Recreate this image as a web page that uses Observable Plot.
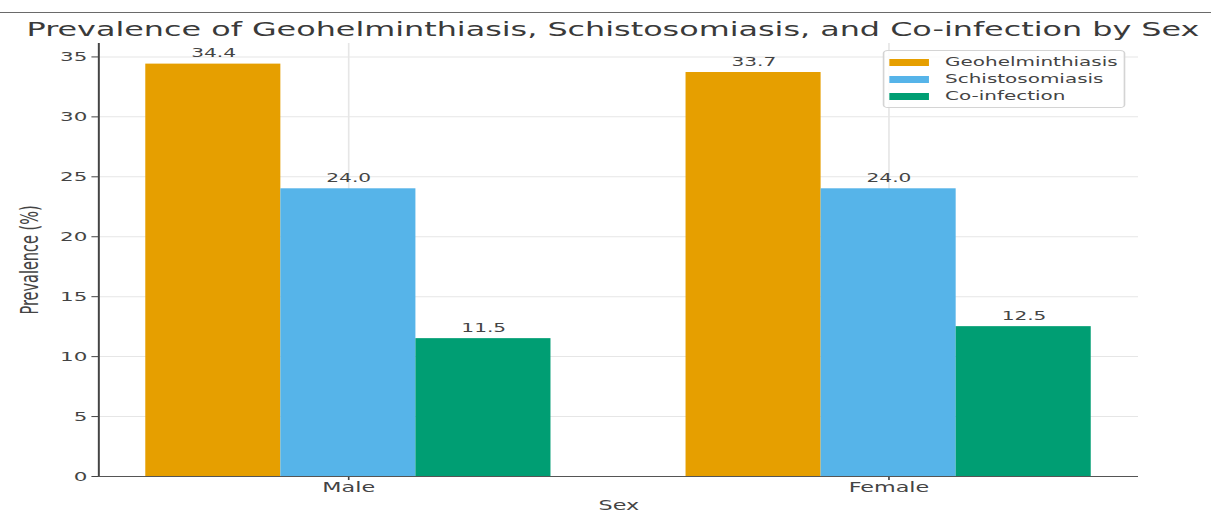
<!DOCTYPE html>
<html>
<head>
<meta charset="utf-8">
<script src="https://cdn.jsdelivr.net/npm/d3@7"></script>
<script src="https://cdn.jsdelivr.net/npm/@observablehq/plot@0.6"></script>
<style>
  html, body { margin: 0; padding: 0; background: #fff; }
  #wrap { position: relative; width: 734px; height: 514px; transform: scaleX(1.65); transform-origin: 0 0; font-family: "DejaVu Sans", sans-serif; }
  #topline { position: absolute; top: 11.5px; left: 0; width: 100%; border-top: 1.5px solid #6a6a6a; }
  #title { position: absolute; top: 19.5px; left: 0; width: 100%; box-sizing: border-box; padding-left: 9px; text-align: center; font-size: 19.3px; line-height: 19.3px; color: #3a3a3a; white-space: nowrap; }
  #chart { position: absolute; top: 40px; left: 0; }
  #legend { position: absolute; left: 535.2px; top: 50px; width: 147.3px; height: 58px; box-sizing: border-box; border: 1px solid #d4d4d4; border-radius: 3px; background: rgba(255,255,255,0.85); padding-top: 2.5px; }
  .row { display: flex; align-items: center; height: 17px; }
  .sw { width: 24.8px; height: 7px; margin-left: 2.4px; margin-right: 9.4px; flex: none; }
  .lab { font-size: 12.1px; color: #444; white-space: nowrap; }
</style>
</head>
<body>
<div id="wrap">
  <div id="topline"></div>
  <div id="title">Prevalence of Geohelminthiasis, Schistosomiasis, and Co-infection by Sex</div>
  <div id="chart"></div>
  <div id="legend"></div>
</div>
<script>
const sexes = ["Male", "Female"];
const series = ["Geohelminthiasis", "Schistosomiasis", "Co-infection"];
const geohelminthiasis = [34.4, 33.7];
const schistosomiasis = [24.0, 24.0];
const coinfection = [11.5, 12.5];
const colors = ["#E69F00", "#56B4E9", "#009E73"];
const yTicks = [0, 5, 10, 15, 20, 25, 30, 35];

const valuesBySeries = [geohelminthiasis, schistosomiasis, coinfection];
const key = (sex, s) => sex + "|" + s;
const data = sexes.flatMap((sex, i) =>
  series.map((s, j) => ({ sex, series: s, key: key(sex, s), value: valuesBySeries[j][i] }))
);
// x slots: each group's bars, with one empty slot between groups
const xDomain = sexes.flatMap((sex, i) => [
  ...series.map(s => key(sex, s)),
  ...(i < sexes.length - 1 ? [key(sex, "gap")] : [])
]);
const xTicks = sexes.map(sex => key(sex, series[1]));

const chart = Plot.plot({
  width: 734,
  height: 474,
  marginTop: 3,
  marginBottom: 38,
  marginLeft: 59.4,
  marginRight: 44.3,
  style: { fontFamily: "DejaVu Sans", color: "#444", background: "transparent", overflow: "visible" },
  x: { domain: xDomain, paddingInner: 0, paddingOuter: 0.35, round: false, axis: null },
  y: { domain: [0, 36.12], axis: null },
  color: { domain: series, range: colors },
  marks: [
    Plot.gridY(yTicks, { stroke: "#e6e6e6", strokeOpacity: 1, strokeWidth: 1 }),
    Plot.gridX(xTicks, { stroke: "#e6e6e6", strokeOpacity: 1, strokeWidth: 1 }),
    Plot.barY(data, { x: "key", y: "value", fill: "series" }),
    Plot.text(data, { x: "key", y: "value", text: d => d.value.toFixed(1), lineAnchor: "bottom", dy: -7, fontSize: 12.2, fill: "#444" }),
    Plot.axisY(yTicks, { anchor: "left", tickSize: 4, tickPadding: 3, fontSize: 13, stroke: "#444", fill: "#444", label: null }),
    Plot.axisY([], { anchor: "left", tickSize: 0, fontSize: 14.5, fill: "#444",
      label: "Prevalence (%)", labelAnchor: "center", labelArrow: false, labelOffset: 47 }),
    Plot.axisX(xTicks, { anchor: "bottom", tickSize: 4, tickPadding: 2, fontSize: 13.5, stroke: "#444", fill: "#444",
      tickFormat: d => d.split("|")[0],
      label: "Sex", labelAnchor: "center", labelArrow: false, labelOffset: 33.5 }),
    Plot.frame({ anchor: "left", stroke: "#444", strokeWidth: 1.2 }),
    Plot.ruleY([0], { stroke: "#555", strokeWidth: 1 })
  ]
});
document.getElementById("chart").appendChild(chart);

const legend = document.getElementById("legend");
series.forEach((s, j) => {
  const row = document.createElement("div");
  row.className = "row";
  const sw = document.createElement("div");
  sw.className = "sw";
  sw.style.background = colors[j];
  const lab = document.createElement("span");
  lab.className = "lab";
  lab.textContent = s;
  row.appendChild(sw);
  row.appendChild(lab);
  legend.appendChild(row);
});
</script>
</body>
</html>
